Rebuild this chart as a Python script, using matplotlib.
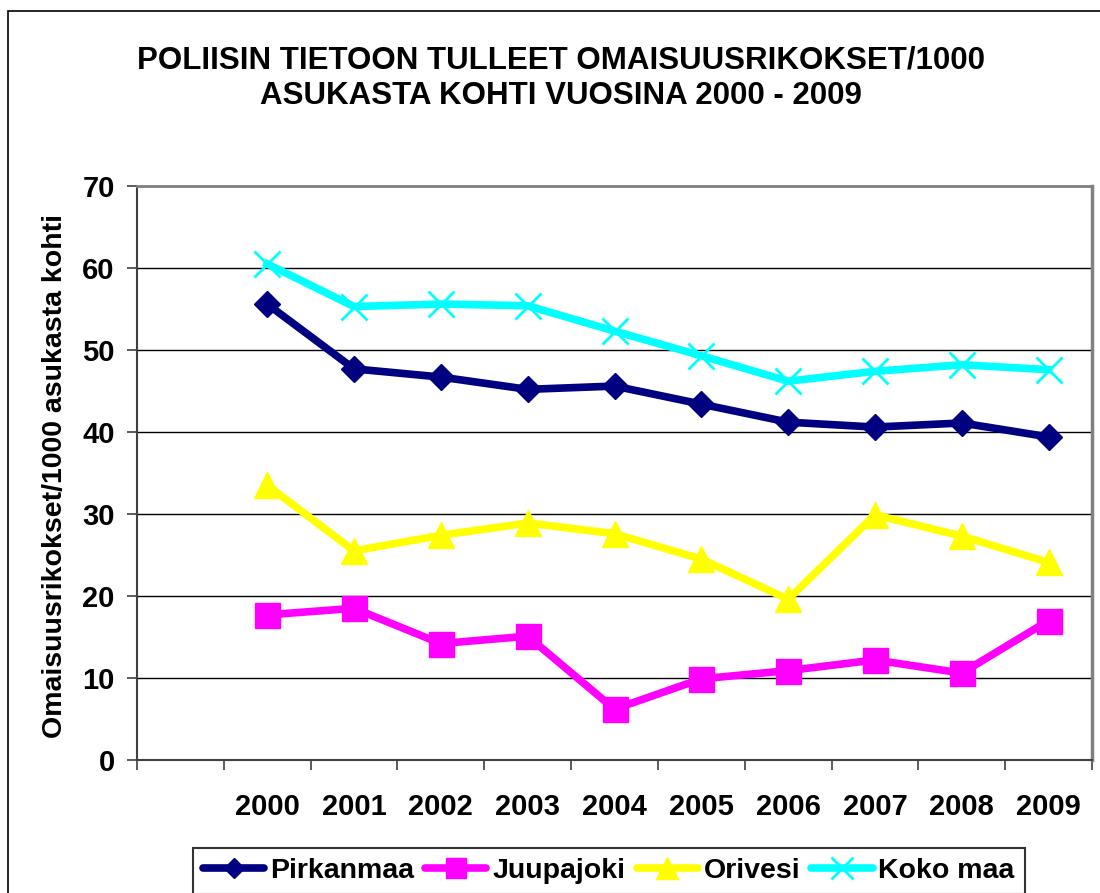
import matplotlib
matplotlib.use("Agg")
import matplotlib.pyplot as plt
from matplotlib.patches import Rectangle

plt.rcParams['font.family'] = ['Liberation Sans', 'DejaVu Sans']
plt.rcParams['font.weight'] = 'bold'

# data
years = ['2000', '2001', '2002', '2003', '2004', '2005', '2006', '2007', '2008', '2009']
pirkanmaa = [55.6, 47.7, 46.7, 45.2, 45.6, 43.4, 41.2, 40.6, 41.1, 39.4]
juupajoki = [17.7, 18.5, 14.2, 15.1, 6.2, 9.9, 10.9, 12.2, 10.6, 17.0]
orivesi = [33.5, 25.5, 27.4, 28.9, 27.6, 24.5, 19.6, 29.9, 27.3, 24.1]
koko_maa = [60.5, 55.3, 55.6, 55.4, 52.3, 49.3, 46.2, 47.4, 48.2, 47.6]

W, H = 1100, 893
fig = plt.figure(figsize=(W / 100, H / 100), dpi=100)
fig.patch.set_facecolor('white')

# outer chart frame (runs off the right/bottom edge like the original)
fig.patches.append(Rectangle((8 / W, -0.05), 1.1, 1 - 11 / H + 0.05,
                             transform=fig.transFigure, fill=False,
                             edgecolor='black', linewidth=1.2))

ax = fig.add_axes([137 / W, 1 - 760 / H, (1092 - 137) / W, (760 - 186) / H])

# first category slot is empty in the original, so data start at index 1
xs = list(range(1, len(years) + 1))
ax.plot(xs, pirkanmaa, color='#000080', lw=5.5, marker='D', ms=13, label='Pirkanmaa')
ax.plot(xs, juupajoki, color='#FF00FF', lw=5.5, marker='s', ms=18, label='Juupajoki')
ax.plot(xs, orivesi, color='#FFFF00', lw=5.5, marker='^', ms=19, label='Orivesi')
ax.plot(xs, koko_maa, color='#00FFFF', lw=5.5, marker='x', ms=19, mew=2, label='Koko maa')

ax.set_xlim(-0.5, len(years) + 0.5)
ax.set_ylim(0, 70)
ax.set_yticks(range(0, 71, 10))
ax.yaxis.grid(True, color='black', lw=1)
ax.set_axisbelow(True)

ax.set_xticks(xs)
ax.set_xticklabels(years)
ax.set_xticks([i - 0.5 for i in range(len(years) + 2)], minor=True)
ax.tick_params(axis='x', which='major', length=0, pad=24, labelsize=21)
ax.tick_params(axis='x', which='minor', length=7, width=1.2, direction='out', color='#404040')
ax.tick_params(axis='y', length=7, width=1.2, direction='out', pad=9, labelsize=21, color='#404040')
for lab in ax.get_xticklabels() + ax.get_yticklabels():
    lab.set_fontweight('bold')

ax.spines['left'].set_color('#404040')
ax.spines['left'].set_linewidth(1.5)
ax.spines['bottom'].set_color('#404040')
ax.spines['bottom'].set_linewidth(1.5)
ax.spines['top'].set_color('#808080')
ax.spines['top'].set_linewidth(2)
ax.spines['right'].set_color('#808080')
ax.spines['right'].set_linewidth(2.5)

fig.text(561 / W, 1 - 78 / H,
         'POLIISIN TIETOON TULLEET OMAISUUSRIKOKSET/1000\nASUKASTA KOHTI VUOSINA 2000 - 2009',
         ha='center', va='center', fontsize=22.5, fontweight='bold', linespacing=1.22)
fig.text(55 / W, 1 - 476 / H, 'Omaisuusrikokset/1000 asukasta kohti',
         rotation=90, ha='center', va='center', fontsize=20.5, fontweight='bold')

leg = fig.legend(loc='upper left', bbox_to_anchor=(193 / W, 1 - 848 / H), ncol=4,
                 fontsize=20.5, frameon=True, fancybox=False, edgecolor='black',
                 handlelength=2.15, handletextpad=0.2, columnspacing=0.4,
                 borderpad=0.35, borderaxespad=0, numpoints=1, markerscale=0.8)
leg.get_frame().set_linewidth(1.5)
for t in leg.get_texts():
    t.set_fontweight('bold')
for h in leg.legend_handles:
    h.set_solid_capstyle('round')

fig.savefig('out.png', dpi=100)
